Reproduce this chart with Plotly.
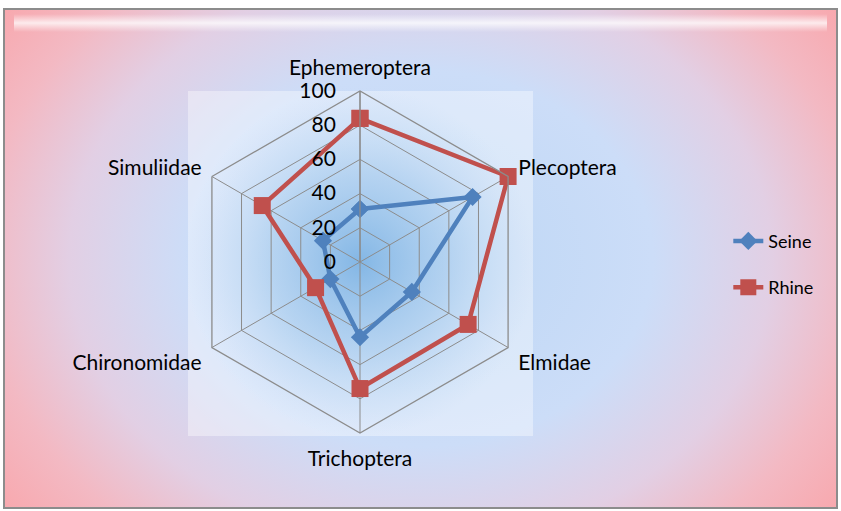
import base64
import plotly.graph_objects as go

categories = ["Ephemeroptera", "Plecoptera", "Elmidae", "Trichoptera", "Chironomidae", "Simuliidae"]
seine = [31, 76, 35, 44, 20, 25]
rhine = [84, 100, 73, 74, 30, 66]
radial_ticks = [0, 20, 40, 60, 80, 100]

W, H = 841, 511

svg = f'''<svg xmlns="http://www.w3.org/2000/svg" width="{W}" height="{H}" viewBox="0 0 {W} {H}" preserveAspectRatio="none">
<defs>
<radialGradient id="bg" cx="0.5" cy="0.5" r="0.62" fx="0.5" fy="0.5" gradientTransform="translate(0.5 0.5) scale(1 1.35) translate(-0.5 -0.5)">
<stop offset="0" stop-color="#BBD6F4"/>
<stop offset="0.45" stop-color="#CCDDF8"/>
<stop offset="0.68" stop-color="#E2CFE4"/>
<stop offset="0.85" stop-color="#F3B9C3"/>
<stop offset="1" stop-color="#F8A9AF"/>
</radialGradient>
<linearGradient id="top" x1="0" y1="0" x2="0" y2="1">
<stop offset="0" stop-color="#FFFFFF" stop-opacity="0"/>
<stop offset="0.5" stop-color="#FFFFFF" stop-opacity="0.75"/>
<stop offset="1" stop-color="#FFFFFF" stop-opacity="0"/>
</linearGradient>
<radialGradient id="glow" cx="0.5" cy="0.5" r="0.5">
<stop offset="0" stop-color="#7FB4E4" stop-opacity="0.95"/>
<stop offset="0.5" stop-color="#97C2EA" stop-opacity="0.55"/>
<stop offset="1" stop-color="#B5D3F2" stop-opacity="0"/>
</radialGradient>
</defs>
<rect x="0" y="0" width="{W}" height="{H}" fill="#FFFFFF"/>
<rect x="4" y="9" width="833" height="499" fill="url(#bg)" stroke="#8C8C8C" stroke-width="2"/>
<rect x="14" y="14" width="813" height="18" fill="url(#top)"/>
<rect x="188" y="91" width="345" height="345" fill="#FFFFFF" fill-opacity="0.38"/>
<circle cx="360" cy="262" r="175" fill="url(#glow)"/>
</svg>'''
src = "data:image/svg+xml;base64," + base64.b64encode(svg.encode()).decode()

cx, cy, R = 360, 262, 171
FONT = "Lato, Noto Sans, sans-serif"

fig = go.Figure()
fig.add_trace(go.Scatterpolar(
    r=seine + [seine[0]], theta=categories + [categories[0]], name="Seine",
    mode="lines+markers", legendgroup="a",
    line=dict(color="#4F81BD", width=4.5),
    marker=dict(symbol="diamond", size=14, color="#4F81BD"),
))
fig.add_trace(go.Scatterpolar(
    r=rhine + [rhine[0]], theta=categories + [categories[0]], name="Rhine",
    mode="lines+markers", legendgroup="b",
    line=dict(color="#C0504D", width=4.5),
    marker=dict(symbol="square", size=17, color="#C0504D"),
))

fig.update_layout(
    width=W, height=H,
    margin=dict(l=0, r=0, t=0, b=0),
    paper_bgcolor="rgba(0,0,0,0)",
    plot_bgcolor="rgba(0,0,0,0)",
    font=dict(family=FONT, color="#000000"),
    images=[dict(source=src, xref="paper", yref="paper", x=0, y=1,
                 sizex=1, sizey=1, sizing="stretch", layer="below",
                 xanchor="left", yanchor="top")],
    polar=dict(
        domain=dict(x=[(cx - R) / W, (cx + R) / W], y=[1 - (cy + R) / H, 1 - (cy - R) / H]),
        bgcolor="rgba(0,0,0,0)",
        gridshape="linear",
        angularaxis=dict(
            rotation=90, direction="clockwise",
            tickfont=dict(size=21, family=FONT),
            gridcolor="#8C8C8C", gridwidth=1.3,
            linecolor="#8C8C8C", linewidth=1.3,
            ticks="outside", ticklen=7, tickcolor="rgba(0,0,0,0)", showline=True,
        ),
        radialaxis=dict(
            range=[0, 100], tickvals=radial_ticks,
            ticktext=[str(v) + "\u00a0\u00a0\u00a0" for v in radial_ticks],
            angle=90, tickangle=90, side="counterclockwise",
            tickfont=dict(size=21, family=FONT),
            gridcolor="#8C8C8C", gridwidth=1.3,
            showline=True, linecolor="#8C8C8C", linewidth=1.3,
            ticks="",
        ),
    ),
    legend=dict(
        x=0.866, y=0.483, xanchor="left", yanchor="middle",
        bgcolor="rgba(0,0,0,0)", tracegroupgap=20,
        font=dict(size=18, family=FONT),
    ),
    showlegend=True,
)

fig.write_html("out.html", config={"displayModeBar": False},
               post_script="document.body.style.margin='0';document.body.style.overflow='hidden';")
